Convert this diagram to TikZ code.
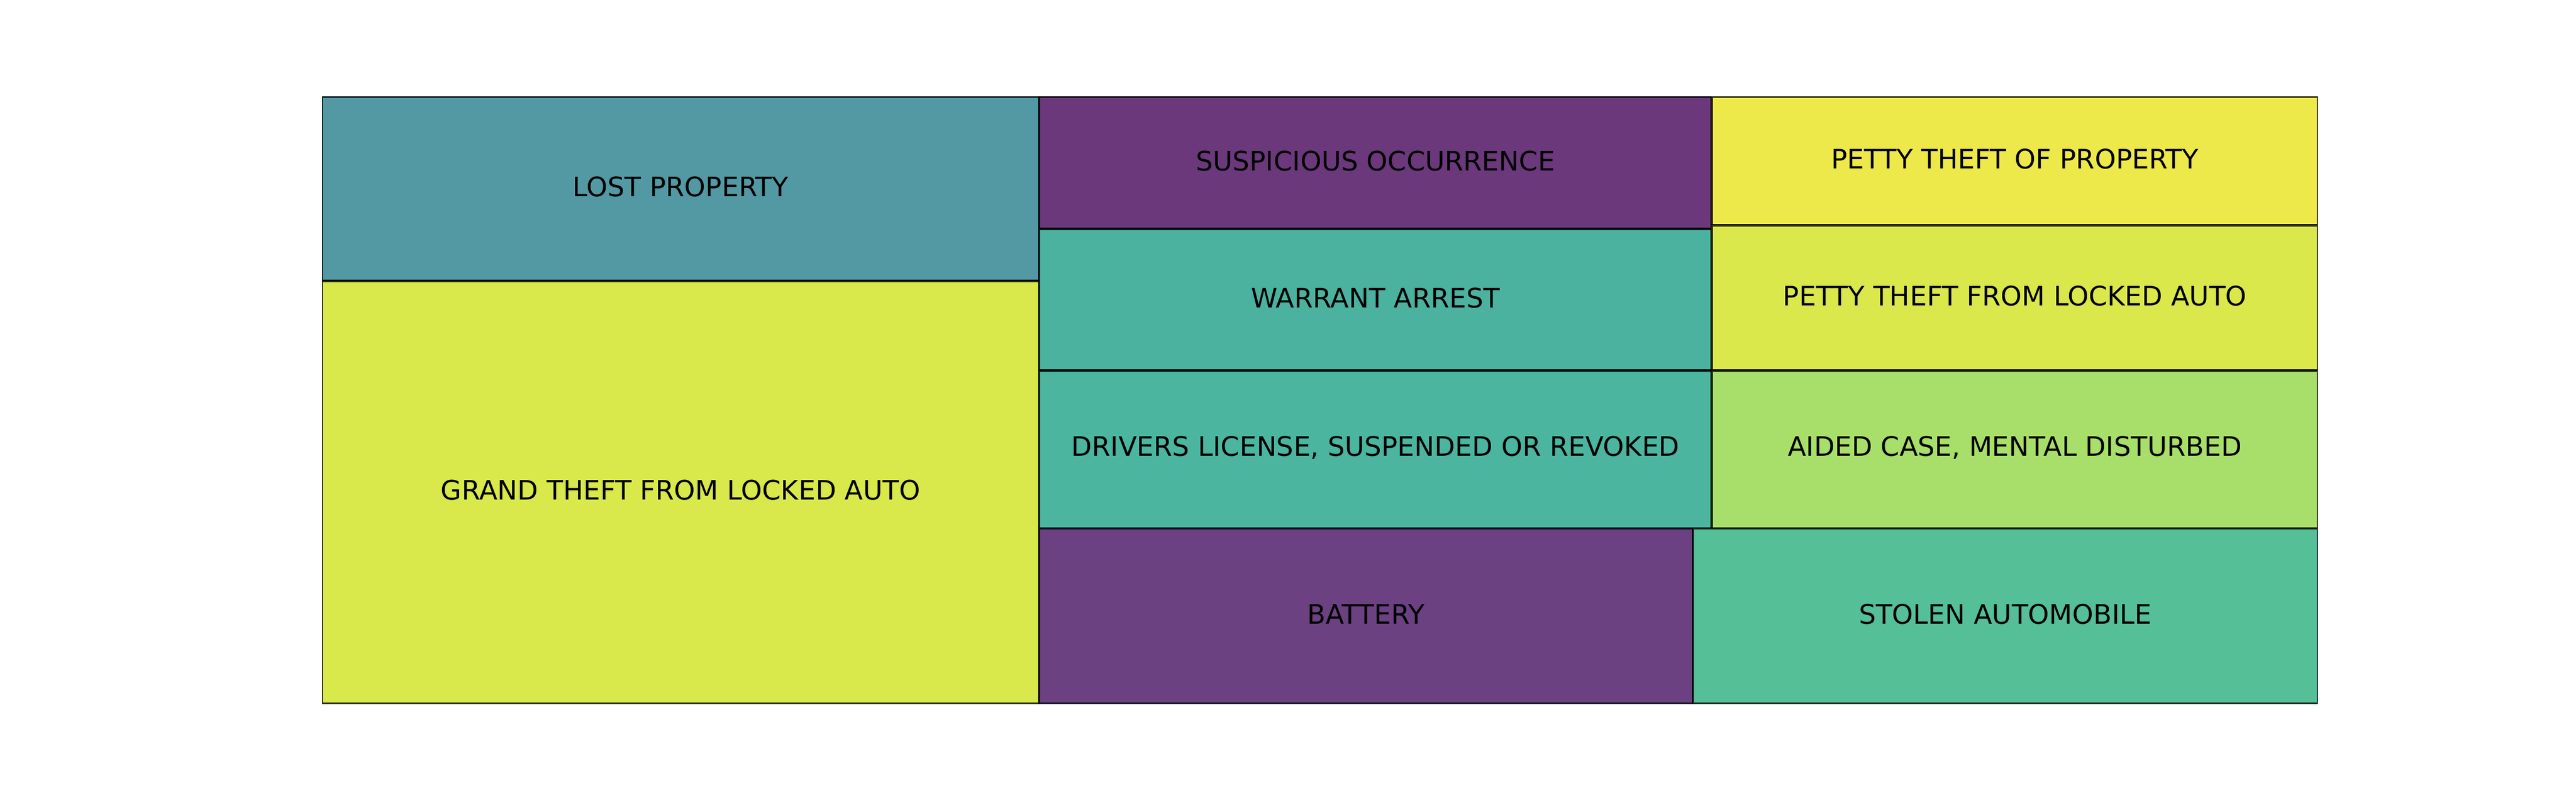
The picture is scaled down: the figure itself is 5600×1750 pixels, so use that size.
\documentclass[tikz,border=0pt]{standalone}
\usepackage{fontspec}
\setmainfont{DejaVu Sans}
\definecolor{cLost}{HTML}{5399A3}
\definecolor{cGrand}{HTML}{D9E84A}
\definecolor{cSusp}{HTML}{6A387B}
\definecolor{cWarr}{HTML}{4BB2A0}
\definecolor{cDriv}{HTML}{4BB59F}
\definecolor{cPettyP}{HTML}{EEE94A}
\definecolor{cPettyA}{HTML}{DBE84B}
\definecolor{cAided}{HTML}{A8DF6A}
\definecolor{cBatt}{HTML}{6B4181}
\definecolor{cStol}{HTML}{55BF98}
\tikzset{
  tile/.style={draw=black, draw opacity=0.8, line width=1pt},
  lbl/.style={font=\fontsize{12}{14.4}\selectfont, text=black, inner sep=0pt, yshift=0.9pt}
}
\begin{document}
\begin{tikzpicture}[x=0.205714pt, y=-0.205714pt]
\useasboundingbox (0,0) rectangle (5600,1750);
\begin{scope}
\clip (700,210) rectangle (5039,1530);
\filldraw[tile, fill=cLost]   (700,210)  rectangle (2259,611);
\filldraw[tile, fill=cGrand]  (700,611)  rectangle (2259,1530);
\filldraw[tile, fill=cSusp]   (2259,210) rectangle (3721,498);
\filldraw[tile, fill=cWarr]   (2259,498) rectangle (3721,806);
\filldraw[tile, fill=cDriv]   (2259,806) rectangle (3721,1149);
\filldraw[tile, fill=cPettyP] (3721,210) rectangle (5039,490);
\filldraw[tile, fill=cPettyA] (3721,490) rectangle (5039,806);
\filldraw[tile, fill=cAided]  (3721,806) rectangle (5039,1149);
\filldraw[tile, fill=cBatt]   (2259,1149) rectangle (3680,1530);
\filldraw[tile, fill=cStol]   (3680,1149) rectangle (5039,1530);
\end{scope}
\node[lbl] (lost)   at (1479.5,410.5)  {LOST PROPERTY};
\node[lbl] (grand)  at (1479.5,1070.5) {GRAND THEFT FROM LOCKED AUTO};
\node[lbl] (susp)   at (2990,354)      {SUSPICIOUS OCCURRENCE};
\node[lbl] (warr)   at (2990,652)      {WARRANT ARREST};
\node[lbl] (driv)   at (2990,977.5)    {DRIVERS LICENSE, SUSPENDED OR REVOKED};
\node[lbl] (pettyp) at (4380,350)      {PETTY THEFT OF PROPERTY};
\node[lbl] (pettya) at (4380,648)      {PETTY THEFT FROM LOCKED AUTO};
\node[lbl] (aided)  at (4380,977.5)    {AIDED CASE, MENTAL DISTURBED};
\node[lbl] (batt)   at (2969.5,1339.5) {BATTERY};
\node[lbl] (stol)   at (4359.5,1339.5) {STOLEN AUTOMOBILE};
\end{tikzpicture}
\end{document}
